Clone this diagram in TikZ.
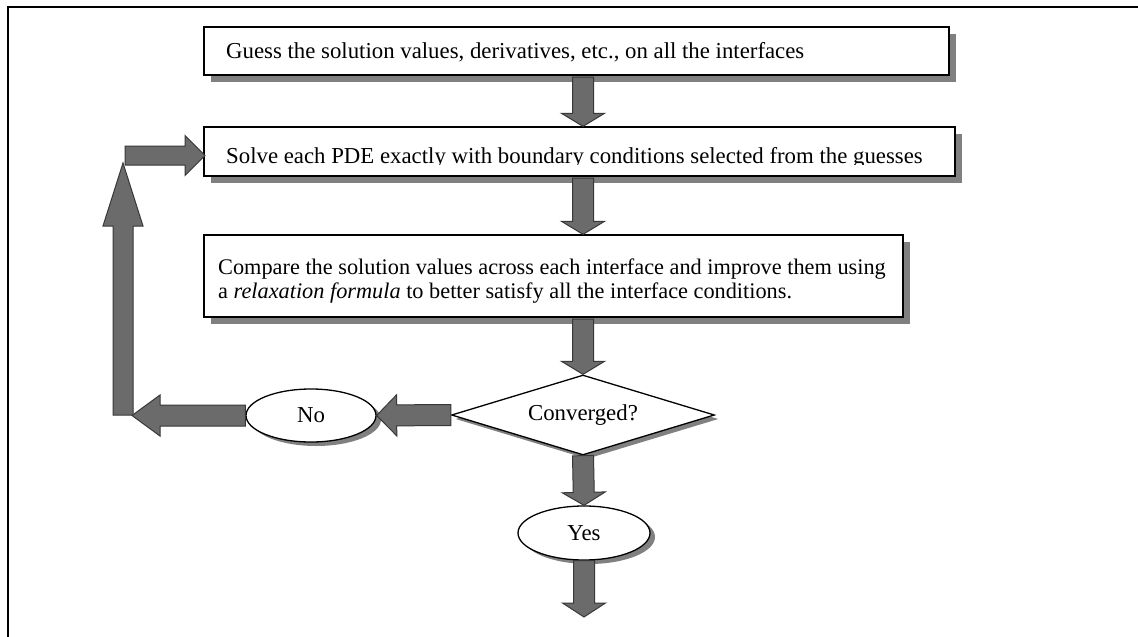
\documentclass[tikz,border=0pt]{standalone}
\usepackage{fontspec}
\setmainfont{Liberation Serif}
\usetikzlibrary{calc,shapes.geometric,shadows}

% Broad block arrow from #1 to tip #2; #3 head length, #4 half shaft width, #5 half head width
\newcommand\blockarrow[5]{%
  \coordinate (bahead) at ($(#2)!#3!(#1)$);
  \draw[blockarrowstyle]
    ($(#1)!#4!90:(#2)$) -- ($(bahead)!#4!90:(#2)$) -- ($(bahead)!#5!90:(#2)$)
    -- (#2) -- ($(bahead)!#5!-90:(#2)$) -- ($(bahead)!#4!-90:(#2)$)
    -- ($(#1)!#4!-90:(#2)$) -- cycle;}

\tikzset{
  txt/.style={font=\fontsize{22.8}{24}\selectfont, inner sep=0pt, text=black},
  txtnarrow/.style={txt, font=\fontsize{22.3}{24}\selectfont},
  stepbox/.style={rectangle, draw=black, line width=1.3pt, fill=white, inner sep=0pt,
    drop shadow={shadow xshift=7pt, shadow yshift=-7pt, fill=black!50, opacity=1}},
  answer/.style={ellipse, draw=black, line width=1.3pt, fill=white, inner sep=0pt,
    font=\fontsize{22.8}{24}\selectfont,
    drop shadow={shadow xshift=5pt, shadow yshift=-4pt, fill=black!50, opacity=1}},
  decision/.style={diamond, aspect=3.29, draw=black, line width=1.3pt, fill=white, inner sep=0pt,
    font=\fontsize{22.8}{24}\selectfont,
    drop shadow={shadow xshift=4pt, shadow yshift=-4pt, fill=black!50, opacity=1}},
  blockarrowstyle/.style={fill=black!58, draw=black!78, line width=1pt, line join=miter},
}

\begin{document}
\begin{tikzpicture}[x=1pt, y=-1pt]
  \useasboundingbox (0,0) rectangle (1138,637);
  \fill[white] (0,0) rectangle (1138,637);

  % page frame (left and top rules)
  \draw[line width=2pt, black] (8,637) -- (8,7) -- (1138,7);

  % process boxes
  \node[stepbox, minimum width=745pt, minimum height=48pt] (guess) at (576.5,51) {};
  \node[txt, anchor=base west] (guesstext) at (226,58.3)
    {Guess the solution values, derivatives, etc., on all the interfaces};

  \node[stepbox, minimum width=751pt, minimum height=49pt] (solve) at (579.5,151.5) {};
  \begin{scope}
    \clip (solve.north west) rectangle (955,164.5);
    \node[txt, anchor=base west] (solvetext) at (226,163.5)
      {Solve each PDE exactly with boundary conditions selected from the guesses};
  \end{scope}

  \node[stepbox, minimum width=699pt, minimum height=82pt] (compare) at (553.5,276) {};
  \node[txtnarrow, anchor=base west] (comparetext) at (218,274.3)
    {Compare the solution values across each interface and improve them using};
  \node[txtnarrow, anchor=base west] (comparetextb) at (218,298.3)
    {a \textit{relaxation formula} to better satisfy all the interface conditions.};

  % decision and outcomes
  \node[decision, minimum width=263pt, minimum height=80pt] (dec) at (583,415) {Converged?};
  \node[answer, minimum width=130pt, minimum height=53pt] (no) at (311,415.5) {No};
  \node[answer, minimum width=132pt, minimum height=54pt] (yes) at (584,533) {Yes};

  % connector end points
  \coordinate (a1s) at ($(guess.south -| dec)+(0,1.5)$);
  \coordinate (a1e) at (solve.north -| dec);
  \coordinate (a2s) at ($(solve.south -| dec)+(0,1.5)$);
  \coordinate (a2e) at (compare.north -| dec);
  \coordinate (a3s) at ($(compare.south -| dec)+(0,1.5)$);
  \coordinate (yesout) at (584,617);
  \coordinate (loopcorner) at (132,415.5);
  \coordinate (loopbase) at (123,415);
  \coordinate (looptop) at (123,163);
  \coordinate (loopstart) at (125,155.5);
  \coordinate (loopend) at (205,155.5);

  % flow arrows
  \blockarrow{a1s}{a1e}{13pt}{10.5pt}{21.5pt}
  \blockarrow{a2s}{a2e}{13pt}{10.5pt}{21.5pt}
  \blockarrow{a3s}{dec.north}{13pt}{10.5pt}{21.5pt}
  \blockarrow{dec.south}{yes.north}{13pt}{10.5pt}{21.5pt}
  \blockarrow{yes.south}{yesout}{14pt}{10.5pt}{21.5pt}
  \blockarrow{dec.west}{no.east}{20pt}{10.5pt}{20.5pt}
  \blockarrow{no.west}{loopcorner}{28pt}{10.5pt}{20.5pt}
  \blockarrow{loopbase}{looptop}{63pt}{10pt}{20pt}
  \blockarrow{loopstart}{loopend}{20pt}{9.5pt}{20pt}
\end{tikzpicture}
\end{document}
